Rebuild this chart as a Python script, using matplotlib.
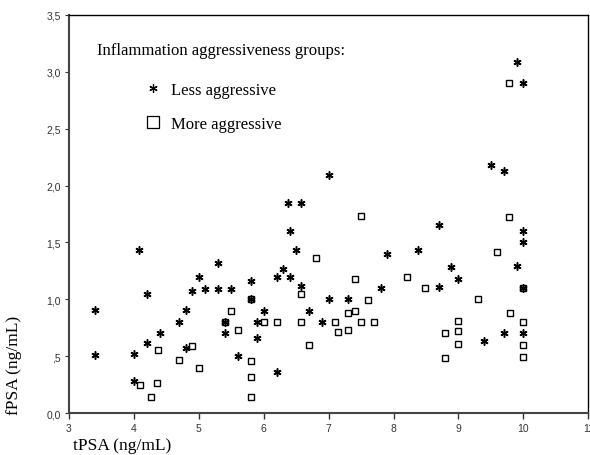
import matplotlib
matplotlib.use("Agg")
import matplotlib.pyplot as plt
from matplotlib.lines import Line2D

# Less aggressive group (asterisks)
less_tpsa = [3.4, 3.4, 4.0, 4.0, 4.08, 4.2, 4.2, 4.4, 4.7, 4.8, 4.8, 4.9, 5.0, 5.1,
             5.3, 5.3, 5.4, 5.4, 5.5, 5.6, 5.8, 5.8, 5.9, 5.9, 6.0, 6.2, 6.2, 6.3,
             6.4, 6.38, 6.4, 6.5, 6.58, 6.58, 6.7, 6.9, 7.0, 7.0, 7.3, 7.8, 7.9,
             8.37, 8.7, 8.7, 8.88, 9.0, 9.4, 9.5, 9.7, 9.7, 9.9, 9.9, 10.0, 10.0,
             10.0, 10.0, 10.0]
less_fpsa = [0.91, 0.51, 0.52, 0.28, 1.43, 1.05, 0.62, 0.70, 0.80, 0.91, 0.57, 1.07,
             1.20, 1.09, 1.32, 1.09, 0.80, 0.70, 1.09, 0.50, 1.16, 1.00, 0.80, 0.66,
             0.90, 1.20, 0.36, 1.27, 1.20, 1.85, 1.60, 1.43, 1.85, 1.12, 0.90, 0.80,
             2.09, 1.00, 1.00, 1.10, 1.40, 1.43, 1.65, 1.11, 1.28, 1.18, 0.63, 2.18,
             2.13, 0.70, 3.09, 1.29, 2.90, 1.60, 1.50, 1.10, 0.70]

# More aggressive group (squares)
more_tpsa = [4.1, 4.26, 4.35, 4.37, 4.7, 4.9, 5.0, 5.4, 5.5, 5.6, 5.8, 5.8, 5.8, 5.8,
             6.0, 6.2, 6.58, 6.58, 6.7, 6.8, 7.1, 7.15, 7.3, 7.3, 7.4, 7.4, 7.5, 7.5,
             7.6, 7.7, 8.2, 8.48, 8.8, 8.8, 9.0, 9.0, 9.0, 9.3, 9.6, 9.78, 9.78, 9.8,
             10.0, 10.0, 10.0, 10.0]
more_fpsa = [0.25, 0.14, 0.26, 0.55, 0.47, 0.59, 0.40, 0.80, 0.90, 0.73, 1.00, 0.46,
             0.32, 0.14, 0.80, 0.80, 1.05, 0.80, 0.60, 1.36, 0.80, 0.71, 0.88, 0.73,
             1.18, 0.90, 1.73, 0.80, 0.99, 0.80, 1.20, 1.10, 0.70, 0.48, 0.81, 0.72,
             0.61, 1.00, 1.42, 2.90, 1.72, 0.88, 1.10, 0.80, 0.60, 0.49]

x_ticks = [3, 4, 5, 6, 7, 8, 9, 10, 11]
y_ticks = [0.0, 0.5, 1.0, 1.5, 2.0, 2.5, 3.0, 3.5]
y_ticklabels = ["0,0", ",5", "1,0", "1,5", "2,0", "2,5", "3,0", "3,5"]

serif = ["Liberation Serif", "DejaVu Serif"]
star = (6, 2, 0)

fig = plt.figure(figsize=(5.9, 4.56), dpi=100)
ax = fig.add_axes([0.117, 0.092, 0.88, 0.873])

ax.plot(less_tpsa, less_fpsa, linestyle="none", marker=star, markersize=5.8,
        markeredgewidth=1.1, color="black")
ax.plot(more_tpsa, more_fpsa, linestyle="none", marker="s", markersize=4.3,
        markeredgewidth=1.0, markerfacecolor="none", markeredgecolor="black")

ax.set_xlim(3, 11)
ax.set_ylim(0, 3.5)
ax.set_xticks(x_ticks)
ax.set_xticklabels([str(t) for t in x_ticks])
ax.set_yticks(y_ticks)
ax.set_yticklabels(y_ticklabels)
ax.tick_params(axis="both", labelsize=7.5, colors="#333333", labelcolor="#333333")
ax.tick_params(axis="x", length=4, width=1.0, pad=3)
ax.tick_params(axis="y", length=3, width=0.8, pad=3)
for lab in ax.get_xticklabels() + ax.get_yticklabels():
    lab.set_family(["Liberation Sans", "DejaVu Sans"])

for side in ["left", "bottom"]:
    ax.spines[side].set_color("#444444")
    ax.spines[side].set_linewidth(1.5)
for side in ["top", "right"]:
    ax.spines[side].set_color("black")
    ax.spines[side].set_linewidth(1.0)

# legend block
ax.text(0.053, 0.913, "Inflammation aggressiveness groups:", transform=ax.transAxes,
        family=serif, fontsize=12, va="center", ha="left")
handles = [
    Line2D([], [], linestyle="none", marker=star, markersize=6, markeredgewidth=0.9,
           color="black"),
    Line2D([], [], linestyle="none", marker="s", markersize=8, markeredgewidth=0.9,
           markerfacecolor="none", markeredgecolor="black"),
]
ax.legend(handles, ["Less aggressive", "More aggressive"], loc="upper left",
          bbox_to_anchor=(0.123, 0.862), frameon=False, prop={"family": serif, "size": 12},
          handlelength=1.0, handletextpad=0.6, labelspacing=1.1, borderpad=0.2)

fig.text(73 / 590, 1 - 446 / 456, "tPSA (ng/mL)", family=serif, fontsize=12.5,
         ha="left", va="center")
fig.text(14 / 590, 1 - 365 / 456, "fPSA (ng/mL)", family=serif, fontsize=12.5,
         ha="center", va="center", rotation=90)

fig.savefig("out.png", dpi=100)
